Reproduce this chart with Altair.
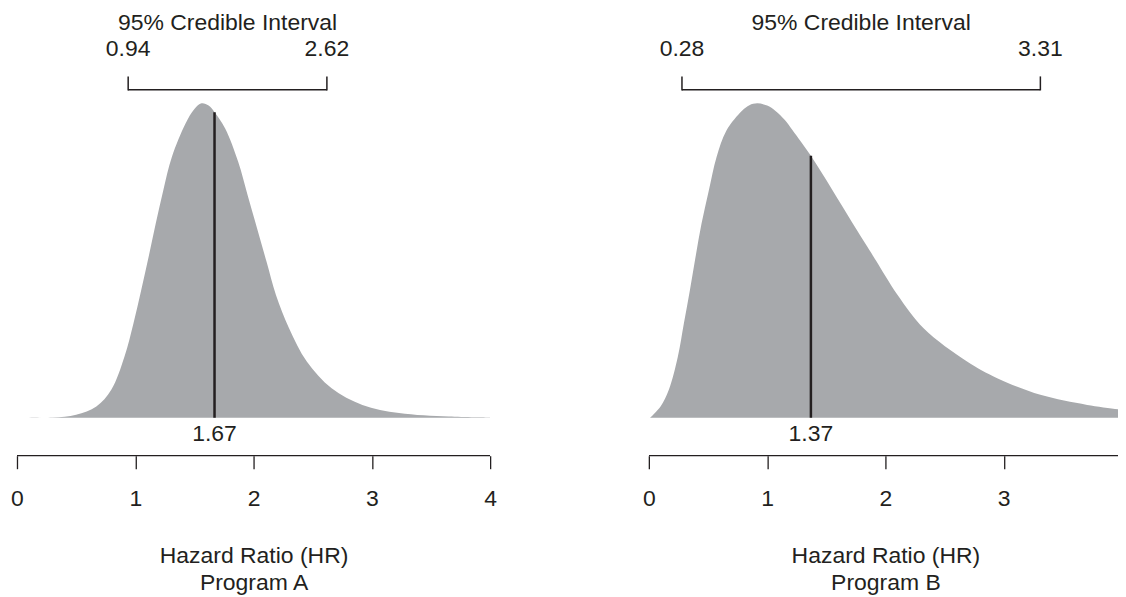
import altair as alt
import pandas as pd

# ---- data ----
programs = ["Program A", "Program B"]
axis_label = "Hazard Ratio (HR)"
ci_caption = "95% Credible Interval"

hr_a = [0.00, 0.30, 0.50, 0.671, 0.797, 0.909, 0.985, 1.050, 1.113, 1.173, 1.237,
        1.310, 1.425, 1.500, 1.560, 1.620, 1.670, 1.760, 1.870, 1.950, 2.030, 2.110,
        2.190, 2.300, 2.450, 2.660, 2.920, 3.230, 3.650, 4.000]
dens_a = [0.000, 0.001, 0.010, 0.036, 0.089, 0.195, 0.301, 0.406, 0.512, 0.618, 0.724,
          0.830, 0.936, 0.982, 1.000, 0.993, 0.972, 0.920, 0.814, 0.708, 0.602, 0.496,
          0.390, 0.285, 0.179, 0.094, 0.041, 0.015, 0.004, 0.001]

hr_b = [0.010, 0.099, 0.169, 0.245, 0.296, 0.347, 0.395, 0.445, 0.507, 0.572, 0.655,
        0.790, 0.850, 0.916, 1.000, 1.071, 1.150, 1.212, 1.370, 1.550, 1.720, 1.850,
        1.920, 2.100, 2.325, 2.690, 2.945, 3.310, 3.706, 4.000]
dens_b = [0.000, 0.036, 0.089, 0.194, 0.300, 0.406, 0.512, 0.617, 0.723, 0.829, 0.913,
          0.977, 0.994, 1.000, 0.993, 0.976, 0.947, 0.916, 0.833, 0.725, 0.620, 0.542,
          0.500, 0.392, 0.284, 0.179, 0.126, 0.073, 0.041, 0.026]

medians = [1.67, 1.37]
median_dens = [0.972, 0.833]
ci_low = [0.94, 0.28]
ci_high = [2.62, 3.31]
x_ticks = [0, 1, 2, 3, 4]

# ---- style / layout ----
FILL = "#a7a9ac"
INK = "#231f20"
FONT = "Liberation Sans"
FS = 23
SCALE_PX = 474            # pixel length of the full 0..4 axis
PANEL_W = [474, 470]      # visible plot width (right panel is cut by the page edge)
H = 500                   # plot height, includes the axis strip
Y_DOMAIN = [-0.2857, 1.3016]


def panel(i, hr, dens):
    width = PANEL_W[i]
    x_max = x_ticks[0] + (x_ticks[-1] - x_ticks[0]) * width / SCALE_PX
    xs = alt.Scale(domain=[x_ticks[0], x_max], nice=False, zero=False)
    ys = alt.Scale(domain=Y_DOMAIN, nice=False, zero=False)
    visible_ticks = [t for t in x_ticks if t <= x_max + 1e-9]

    curve = pd.DataFrame({"hr": hr, "density": dens})
    info = pd.DataFrame({
        "median": [medians[i]],
        "mdens": [median_dens[i]],
        "zero": [0.0],
        "lo": [ci_low[i]],
        "hi": [ci_high[i]],
        "mid": [(ci_low[i] + ci_high[i]) / 2],
        "start": [x_ticks[0]],
        "end": [x_ticks[-1]],
    })
    bounds = pd.DataFrame({"bound": [ci_low[i], ci_high[i]]})

    x_axis = alt.Axis(
        values=visible_ticks, format="d", offset=-52, tickSize=13, tickWidth=1.3,
        domain=False, tickColor=INK, labelColor=INK,
        titleColor=INK, labelFont=FONT, labelFontSize=FS, titleFont=FONT,
        titleFontSize=FS, titleFontWeight="normal", titleLineHeight=27,
        labelPadding=19, titlePadding=34, grid=False, labelFlush=False,
        titleX=SCALE_PX / 2, title=[axis_label, programs[i]],
    )

    area = alt.Chart(curve).mark_area(color=FILL, interpolate="catmull-rom", clip=True).encode(
        x=alt.X("hr:Q", scale=xs, axis=x_axis),
        y=alt.Y("density:Q", scale=ys, axis=None),
        y2=alt.Y2("zero:Q"),
    ).transform_calculate(zero="0")
    domain_line = alt.Chart(info).mark_rule(color=INK, strokeWidth=1.3, clip=True).encode(
        x=alt.X("start:Q", scale=xs),
        x2="end:Q",
        y=alt.value(448),
    )
    med = alt.Chart(info).mark_rule(color=INK, strokeWidth=2.5).encode(
        x=alt.X("median:Q", scale=xs),
        y=alt.Y("mdens:Q", scale=ys, axis=None),
        y2="zero:Q",
    )
    bracket = alt.Chart(info).mark_rule(color=INK, strokeWidth=1.5).encode(
        x=alt.X("lo:Q", scale=xs),
        x2="hi:Q",
        y=alt.value(81.3),
    )
    ends = alt.Chart(bounds).mark_rule(color=INK, strokeWidth=1.5).encode(
        x=alt.X("bound:Q", scale=xs),
        y=alt.value(68),
        y2=alt.value(82),
    )
    txt = dict(font=FONT, fontSize=FS, color=INK, baseline="alphabetic", align="center")
    ci_labels = alt.Chart(bounds).mark_text(**txt).encode(
        x=alt.X("bound:Q", scale=xs),
        y=alt.value(48),
        text=alt.Text("bound:Q", format=".2f"),
    )
    ci_title = alt.Chart(info).mark_text(text=ci_caption, **txt).encode(
        x=alt.X("mid:Q", scale=xs),
        y=alt.value(21.3),
    )
    med_label = alt.Chart(info).mark_text(**txt).encode(
        x=alt.X("median:Q", scale=xs),
        y=alt.value(433.7),
        text=alt.Text("median:Q", format=".2f"),
    )
    return alt.layer(area, domain_line, med, bracket, ends, ci_labels, ci_title,
                     med_label).properties(width=width, height=H)


chart = alt.hconcat(
    panel(0, hr_a, dens_a), panel(1, hr_b, dens_b), spacing=145
).properties(
    padding={"left": 2, "top": 0, "right": 0, "bottom": 0}
).configure(font=FONT).configure_view(stroke=None)

chart.save("out.html", embed_options={"renderer": "svg", "actions": False})
